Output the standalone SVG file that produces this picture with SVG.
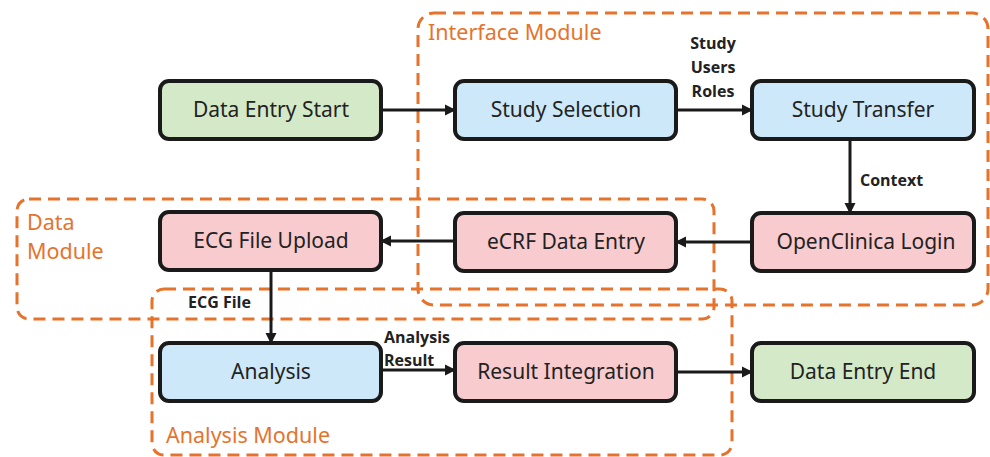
<svg xmlns="http://www.w3.org/2000/svg" width="990" height="457" viewBox="0 0 990 457">
<defs>
<marker id="ah" markerWidth="12" markerHeight="12" refX="9" refY="6" orient="auto" markerUnits="userSpaceOnUse">
<path d="M0,0.5 L11,6 L0,11.5 Z" fill="#1a1a1a"/>
</marker>
<style>
.mod{fill:none;stroke:#E6732C;stroke-width:3;stroke-dasharray:12 7}
.modt{font-family:"Noto Sans","Open Sans",sans-serif;font-size:21.5px;fill:#E6732C}
.box{stroke:#1a1a1a;stroke-width:4}
.g{fill:#D3E9C8}
.b{fill:#CDE8F8}
.p{fill:#F8CBCE}
.t{font-family:"Noto Sans","Open Sans",sans-serif;font-size:21px;fill:#222;text-anchor:middle}
.e{stroke:#1a1a1a;stroke-width:3;fill:none;marker-end:url(#ah)}
.el{font-family:"Open Sans","Noto Sans",sans-serif;font-weight:bold;font-size:16px;fill:#222}
</style>
</defs>
<g id="modules">
<rect id="interface-module" class="mod" x="418" y="13" width="570" height="292" rx="16"/>
<text class="modt" x="428" y="40">Interface Module</text>
<rect id="data-module" class="mod" x="17" y="199" width="697" height="120" rx="12"/>
<text class="modt" x="27" y="230">Data</text>
<text class="modt" x="27" y="259">Module</text>
<rect id="analysis-module" class="mod" x="152" y="289" width="580" height="166" rx="12"/>
<text class="modt" x="166" y="443">Analysis Module</text>
</g>
<g id="connectors">
<line class="e" x1="381" y1="110" x2="454" y2="110"/>
<line class="e" x1="676" y1="110" x2="751" y2="110"/>
<line class="e" x1="850" y1="139" x2="850" y2="212"/>
<line class="e" x1="752" y1="242" x2="677" y2="242"/>
<line class="e" x1="455" y1="241" x2="382" y2="241"/>
<line class="e" x1="271" y1="270" x2="271" y2="342"/>
<line class="e" x1="381" y1="370" x2="454" y2="370"/>
<line class="e" x1="676" y1="372" x2="751" y2="372"/>
<text class="el" x="713" y="49" text-anchor="middle">Study</text>
<text class="el" x="713" y="73" text-anchor="middle">Users</text>
<text class="el" x="713" y="97" text-anchor="middle">Roles</text>
<text class="el" x="860" y="186">Context</text>
<text class="el" x="188" y="308">ECG File</text>
<text class="el" x="384" y="343">Analysis</text>
<text class="el" x="384" y="366">Result</text>
</g>
<g id="data-entry-start"><rect class="box g" x="160" y="81" width="221" height="58" rx="9"/><text class="t" x="271" y="117">Data Entry Start</text></g>
<g id="study-selection"><rect class="box b" x="455" y="81" width="221" height="58" rx="9"/><text class="t" x="566" y="117">Study Selection</text></g>
<g id="study-transfer"><rect class="box b" x="752" y="81" width="222" height="58" rx="9"/><text class="t" x="863" y="117">Study Transfer</text></g>
<g id="openclinica-login"><rect class="box p" x="752" y="213" width="222" height="58" rx="9"/><text class="t" x="866" y="249">OpenClinica Login</text></g>
<g id="ecrf-data-entry"><rect class="box p" x="455" y="213" width="221" height="58" rx="9"/><text class="t" x="566" y="249">eCRF Data Entry</text></g>
<g id="ecg-file-upload"><rect class="box p" x="160" y="212" width="221" height="58" rx="9"/><text class="t" x="271" y="248">ECG File Upload</text></g>
<g id="analysis"><rect class="box b" x="160" y="343" width="221" height="58" rx="9"/><text class="t" x="271" y="379">Analysis</text></g>
<g id="result-integration"><rect class="box p" x="455" y="343" width="221" height="58" rx="9"/><text class="t" x="566" y="379">Result Integration</text></g>
<g id="data-entry-end"><rect class="box g" x="752" y="343" width="222" height="58" rx="9"/><text class="t" x="863" y="379">Data Entry End</text></g>
</svg>
